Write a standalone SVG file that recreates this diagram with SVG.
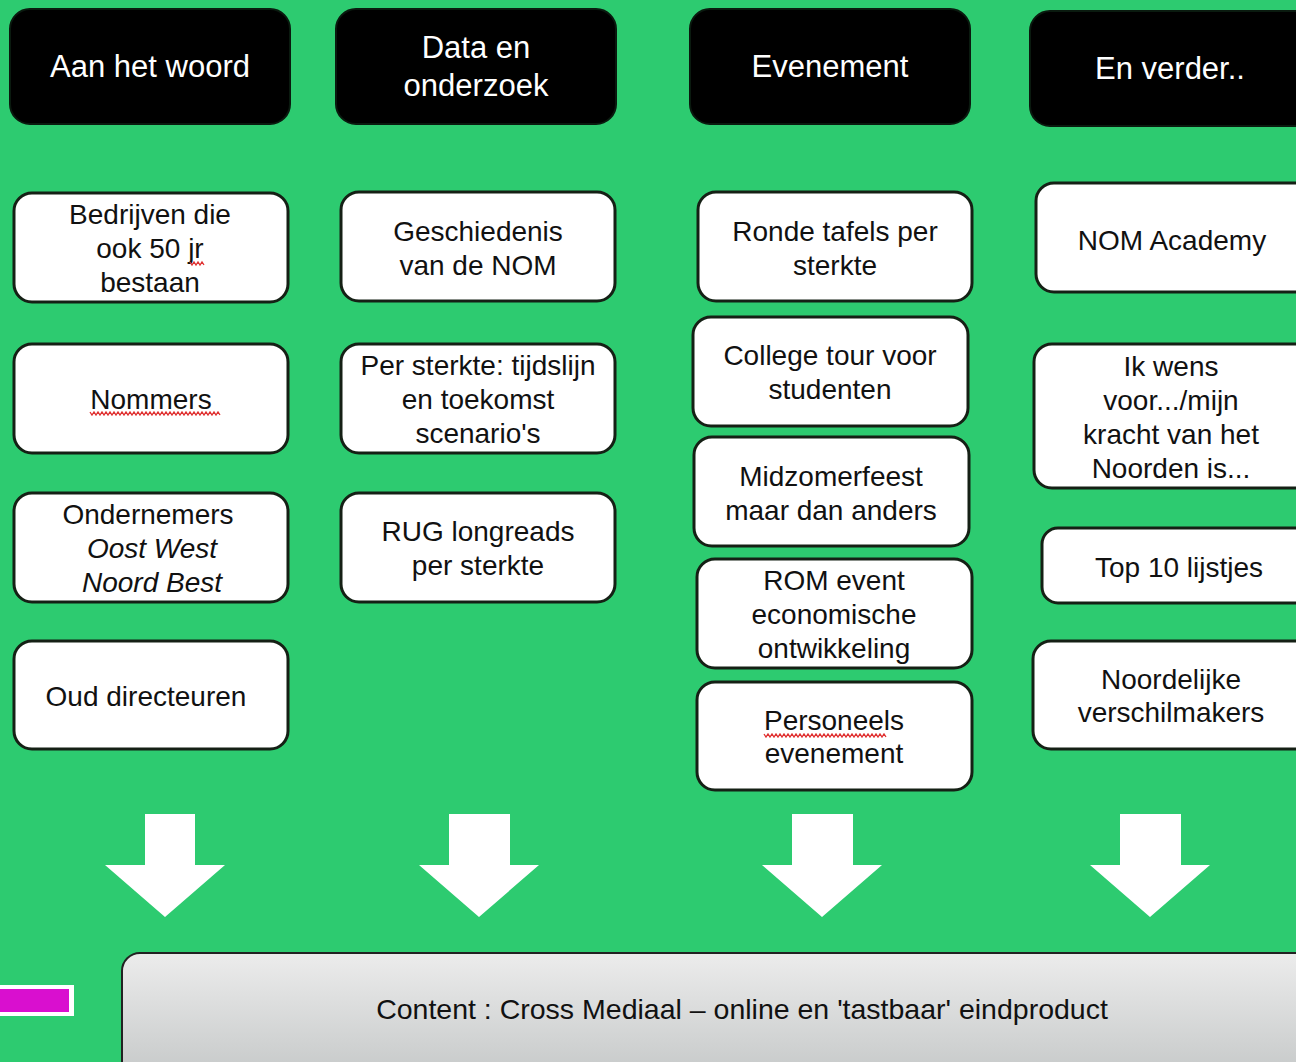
<svg xmlns="http://www.w3.org/2000/svg" width="1296" height="1062" viewBox="0 0 1296 1062">
<defs>
<style>
.hdr{fill:#000;stroke:#0a1a0f;stroke-width:2}
.box{fill:#fff;stroke:#152015;stroke-width:3}
.ht{font-family:"Liberation Sans",Arial,sans-serif;font-size:31px;fill:#fff;text-anchor:middle}
.bt{font-family:"Liberation Sans",Arial,sans-serif;font-size:28px;fill:#111;text-anchor:middle}
.it{font-style:italic}
.arr{fill:#fff}
.sq{fill:none;stroke:#e03030;stroke-width:1.3}
</style>
<linearGradient id="gray" x1="0" y1="0" x2="0" y2="1">
<stop offset="0" stop-color="#ececec"/>
<stop offset="1" stop-color="#c4c7c7"/>
</linearGradient>
</defs>
<rect width="1296" height="1062" fill="#2dcb70"/>

<g id="h1"><rect class="hdr" x="10" y="9" width="280" height="115" rx="20"/><text class="ht" x="150" y="77">Aan het woord</text></g>
<g id="h2"><rect class="hdr" x="336" y="9" width="280" height="115" rx="20"/><text class="ht" x="476" y="58">Data en</text><text class="ht" x="476" y="96">onderzoek</text></g>
<g id="h3"><rect class="hdr" x="690" y="9" width="280" height="115" rx="20"/><text class="ht" x="830" y="77">Evenement</text></g>
<g id="h4"><rect class="hdr" x="1030" y="11" width="290" height="115" rx="20"/><text class="ht" x="1170" y="79">En verder..</text></g>

<g id="n1"><rect class="box" x="14" y="193" width="274" height="109" rx="18"/><text class="bt" x="150" y="224">Bedrijven die</text><text class="bt" x="150" y="258">ook 50 jr</text><text class="bt" x="150" y="292">bestaan</text><path class="sq" d="M190 262 l2 3 l2 -3 l2 3 l2 -3 l2 3 l2 -3 l2 3"/></g>
<g id="n2"><rect class="box" x="14" y="344" width="274" height="109" rx="18"/><text class="bt" x="151" y="409">Nommers</text><path class="sq" d="M90 412 l2 3 l2 -3 l2 3 l2 -3 l2 3 l2 -3 l2 3 l2 -3 l2 3 l2 -3 l2 3 l2 -3 l2 3 l2 -3 l2 3 l2 -3 l2 3 l2 -3 l2 3 l2 -3 l2 3 l2 -3 l2 3 l2 -3 l2 3 l2 -3 l2 3 l2 -3 l2 3 l2 -3 l2 3 l2 -3 l2 3 l2 -3 l2 3 l2 -3 l2 3 l2 -3 l2 3 l2 -3 l2 3 l2 -3 l2 3 l2 -3 l2 3 l2 -3 l2 3 l2 -3 l2 3 l2 -3 l2 3 l2 -3 l2 3 l2 -3 l2 3 l2 -3 l2 3 l2 -3 l2 3 l2 -3 l2 3 l2 -3 l2 3 l2 -3 l2 3"/></g>
<g id="n3"><rect class="box" x="14" y="493" width="274" height="109" rx="18"/><text class="bt" x="148" y="524">Ondernemers</text><text class="bt it" x="152" y="558">Oost West</text><text class="bt it" x="152" y="592">Noord Best</text></g>
<g id="n4"><rect class="box" x="14" y="641" width="274" height="108" rx="18"/><text class="bt" x="146" y="706">Oud directeuren</text></g>

<g id="n5"><rect class="box" x="341" y="192" width="274" height="109" rx="18"/><text class="bt" x="478" y="241">Geschiedenis</text><text class="bt" x="478" y="275">van de NOM</text></g>
<g id="n6"><rect class="box" x="341" y="344" width="274" height="109" rx="18"/><text class="bt" x="478" y="375">Per sterkte: tijdslijn</text><text class="bt" x="478" y="409">en toekomst</text><text class="bt" x="478" y="443">scenario's</text></g>
<g id="n7"><rect class="box" x="341" y="493" width="274" height="109" rx="18"/><text class="bt" x="478" y="541">RUG longreads</text><text class="bt" x="478" y="575">per sterkte</text></g>

<g id="n8"><rect class="box" x="698" y="192" width="274" height="109" rx="18"/><text class="bt" x="835" y="241">Ronde tafels per</text><text class="bt" x="835" y="275">sterkte</text></g>
<g id="n9"><rect class="box" x="693" y="317" width="275" height="109" rx="18"/><text class="bt" x="830" y="365">College tour voor</text><text class="bt" x="830" y="399">studenten</text></g>
<g id="n10"><rect class="box" x="694" y="437" width="275" height="109" rx="18"/><text class="bt" x="831" y="486">Midzomerfeest</text><text class="bt" x="831" y="520">maar dan anders</text></g>
<g id="n11"><rect class="box" x="697" y="559" width="275" height="109" rx="18"/><text class="bt" x="834" y="590">ROM event</text><text class="bt" x="834" y="624">economische</text><text class="bt" x="834" y="658">ontwikkeling</text></g>
<g id="n12"><rect class="box" x="697" y="682" width="275" height="108" rx="18"/><text class="bt" x="834" y="730">Personeels</text><text class="bt" x="834" y="763">evenement</text><path class="sq" d="M764 734 l2 3 l2 -3 l2 3 l2 -3 l2 3 l2 -3 l2 3 l2 -3 l2 3 l2 -3 l2 3 l2 -3 l2 3 l2 -3 l2 3 l2 -3 l2 3 l2 -3 l2 3 l2 -3 l2 3 l2 -3 l2 3 l2 -3 l2 3 l2 -3 l2 3 l2 -3 l2 3 l2 -3 l2 3 l2 -3 l2 3 l2 -3 l2 3 l2 -3 l2 3 l2 -3 l2 3 l2 -3 l2 3 l2 -3 l2 3 l2 -3 l2 3 l2 -3 l2 3 l2 -3 l2 3 l2 -3 l2 3 l2 -3 l2 3 l2 -3 l2 3 l2 -3 l2 3 l2 -3 l2 3 l2 -3 l2 3"/></g>

<g id="n13"><rect class="box" x="1036" y="183" width="290" height="109" rx="18"/><text class="bt" x="1172" y="250">NOM Academy</text></g>
<g id="n14"><rect class="box" x="1034" y="344" width="290" height="144" rx="18"/><text class="bt" x="1171" y="376">Ik wens</text><text class="bt" x="1171" y="410">voor.../mijn</text><text class="bt" x="1171" y="444">kracht van het</text><text class="bt" x="1171" y="478">Noorden is...</text></g>
<g id="n15"><rect class="box" x="1042" y="528" width="290" height="75" rx="16"/><text class="bt" x="1179" y="577">Top 10 lijstjes</text></g>
<g id="n16"><rect class="box" x="1033" y="641" width="290" height="108" rx="18"/><text class="bt" x="1171" y="689">Noordelijke</text><text class="bt" x="1171" y="722">verschilmakers</text></g>

<g id="connectors">
<polygon class="arr" points="145,814 195,814 195,865 225,865 165,917 105,865 145,865"/>
<polygon class="arr" points="449,814 510,814 510,865 539,865 479,917 419,865 449,865"/>
<polygon class="arr" points="792,814 853,814 853,865 882,865 822,917 762,865 792,865"/>
<polygon class="arr" points="1120,814 1181,814 1181,865 1210,865 1150,917 1090,865 1120,865"/>
</g>

<g id="accent"><rect x="-4" y="985" width="78" height="31" fill="#fff"/><rect x="-4" y="989" width="73" height="23" fill="#d90fcf"/></g>

<g id="content"><rect x="122" y="953" width="1200" height="130" rx="18" fill="url(#gray)" stroke="#222" stroke-width="2"/><text x="742" y="1019" style="font-family:'Liberation Sans',Arial,sans-serif;font-size:28.5px;fill:#111;text-anchor:middle">Content : Cross Mediaal – online en 'tastbaar' eindproduct</text></g>
</svg>
